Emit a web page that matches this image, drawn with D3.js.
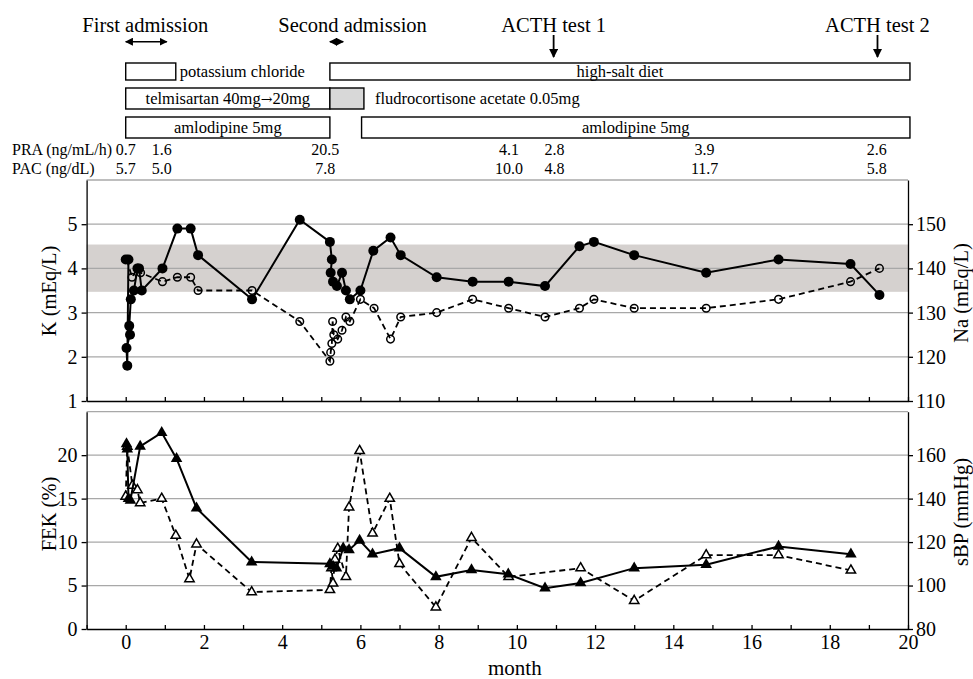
<!DOCTYPE html>
<html>
<head>
<meta charset="utf-8">
<script src="https://cdn.jsdelivr.net/npm/d3@7"></script>
<style>
  html, body { margin: 0; padding: 0; background: #fff; }
  svg { display: block; font-family: "Liberation Serif", "Times New Roman", serif; }
</style>
</head>
<body>
<svg id="chart" width="973" height="679"></svg>
<script>
// ---------------- data ----------------
// serum K (mEq/L), filled circles, solid line  [month, value]
const kData = [
  [0.00,4.2],[0.07,4.2],[0.04,1.8],[0.02,2.2],[0.11,2.5],[0.09,2.7],[0.13,3.3],[0.21,3.5],
  [0.30,4.0],[0.34,4.0],[0.41,3.5],[0.94,4.0],[1.32,4.9],[1.66,4.9],[1.85,4.3],[3.23,3.3],
  [4.45,5.1],[5.22,4.6],[5.27,4.2],[5.24,3.9],[5.30,3.7],[5.40,3.6],[5.53,3.9],[5.63,3.5],
  [5.73,3.3],[6.00,3.5],[6.33,4.4],[6.77,4.7],[7.03,4.3],[7.95,3.8],[8.87,3.7],[9.79,3.7],
  [10.72,3.6],[11.60,4.5],[11.97,4.6],[13.00,4.3],[14.84,3.9],[16.69,4.2],[18.53,4.1],[19.27,3.4]
];
// serum Na (mEq/L), open circles, dashed line
const naData = [
  [0.03,142],[0.16,138],[0.30,140],[0.38,139],[0.94,137],[1.32,138],[1.66,138],[1.85,135],
  [3.23,135],[4.45,128],[5.22,119],[5.24,121],[5.27,123],[5.29,128],[5.32,125],[5.42,124],
  [5.53,126],[5.63,129],[5.73,128],[6.00,133],[6.35,131],[6.77,124],[7.03,129],[7.95,130],
  [8.87,133],[9.79,131],[10.72,129],[11.60,131],[11.97,133],[13.00,131],[14.84,131],
  [16.69,133],[18.53,137],[19.27,140]
];
// FEK (%), filled triangles, solid line
const fekData = [
  [0.02,21.3],[0.04,20.7],[0.07,15.0],[0.12,14.8],[0.37,21.0],[0.92,22.6],[1.30,19.6],
  [1.81,13.9],[3.22,7.7],[5.22,7.5],[5.30,7.2],[5.39,7.0],[5.56,9.3],[5.71,9.1],[5.98,10.2],
  [6.31,8.6],[7.00,9.3],[7.93,6.0],[8.84,6.8],[9.78,6.3],[10.72,4.7],[11.63,5.3],[13.00,7.0],
  [14.84,7.4],[16.69,9.5],[18.54,8.6]
];
// systolic BP (mmHg), open triangles, dashed line
const sbpData = [
  [0.00,141],[0.04,164],[0.17,146],[0.30,144],[0.37,138],[0.92,140],[1.28,123],[1.63,103],
  [1.81,119],[3.22,97],[5.22,98],[5.26,108],[5.30,101],[5.35,112],[5.42,117],[5.63,104],
  [5.71,136],[5.98,162],[6.31,124],[6.75,140],[7.00,110],[7.93,90],[8.84,122],[9.79,104],
  [11.63,108],[13.00,93],[14.84,114],[16.69,114],[18.54,107]
];
const normalK = [3.47, 4.54];

const kTicks = [1,2,3,4,5];
const kGrid = [2,3,4,5,6];
const naTicks = [110,120,130,140,150];
const fekTicks = [0,5,10,15,20];
const fekGrid = [5,10,15,20,25];
const sbpTicks = [80,100,120,140,160];
const monthLabels = [0,2,4,6,8,10,12,14,16,18,20];
const monthTicks = d3.range(-1, 21);

// hormone measurements
const hormoneMonths = [0, 0.92, 5.1, 9.8, 10.96, 14.8, 19.2];
const praValues = ["0.7","1.6","20.5","4.1","2.8","3.9","2.6"];
const pacValues = ["5.7","5.0","7.8","10.0","4.8","11.7","5.8"];

// treatments: label, start month, end month, row, label placement, shaded
const treatNames  = ["potassium chloride","high-salt diet","telmisartan 40mg\u219220mg","","amlodipine 5mg","amlodipine 5mg"];
const treatStart  = [0, 5.22, 0, 5.22, 0, 6.03];
const treatEnd    = [1.28, 20.05, 5.22, 6.09, 5.22, 20.05];
const treatRow    = [0, 0, 1, 1, 2, 2];
const treatInside = [false, true, true, true, true, true];
const treatShaded = [false, false, false, true, false, false];
const fludroLabel = "fludrocortisone acetate 0.05mg";

const admissions = ["First admission", "Second admission"];
const admStart = [0, 5.22];
const admEnd = [1.05, 5.56];
const admLabelAt = [0.5, 5.8];
const acthTests = ["ACTH test 1", "ACTH test 2"];
const acthMonths = [10.94, 19.22];

// ---------------- layout ----------------
const svg = d3.select("#chart");
const X0 = 86.6, X1 = 908;
const x = d3.scaleLinear().domain([-1, 20]).range([X0, X1]);
const top1 = 180, bot1 = 401, top2 = 411.7, bot2 = 629;
const yK = d3.scaleLinear().domain([1, 6]).range([bot1, top1]);
const yNa = d3.scaleLinear().domain([110, 160]).range([bot1, top1]);
const yF = d3.scaleLinear().domain([0, 25]).range([bot2, top2]);
const yS = d3.scaleLinear().domain([80, 180]).range([bot2, top2]);

const gridColor = "#a8a8a8";
const tickFont = "20px";

// ---- normal range band
svg.append("rect")
  .attr("x", X0).attr("width", X1 - X0)
  .attr("y", yK(normalK[1])).attr("height", yK(normalK[0]) - yK(normalK[1]))
  .attr("fill", "#d5d1cf");

// ---- gridlines
svg.append("g").selectAll("line").data(kGrid).join("line")
  .attr("x1", X0).attr("x2", X1).attr("y1", d => yK(d)).attr("y2", d => yK(d))
  .attr("stroke", gridColor).attr("stroke-width", 1.3);
svg.append("g").selectAll("line").data(fekGrid).join("line")
  .attr("x1", X0).attr("x2", X1).attr("y1", d => yF(d)).attr("y2", d => yF(d))
  .attr("stroke", gridColor).attr("stroke-width", 1.3);

function styleAxis(g) {
  g.selectAll("path, line").attr("stroke", "#000").attr("stroke-width", 1.3);
  g.selectAll("text").attr("font-size", tickFont).attr("fill", "#000")
    .attr("font-family", "Liberation Serif, Times New Roman, serif");
}

// ---- top panel axes
svg.append("g").attr("transform", `translate(0,${bot1})`)
  .call(d3.axisBottom(x).tickValues(monthTicks).tickSizeInner(-4).tickSizeOuter(0).tickFormat(""))
  .call(styleAxis);
svg.append("g").attr("transform", `translate(${X0},0)`)
  .call(d3.axisLeft(yK).tickValues(kTicks).tickSizeInner(5).tickSizeOuter(0).tickPadding(4).tickFormat(d3.format("d")))
  .call(styleAxis);
svg.append("g").attr("transform", `translate(${X1},0)`)
  .call(d3.axisRight(yNa).tickValues(naTicks).tickSizeInner(5).tickSizeOuter(0).tickPadding(3).tickFormat(d3.format("d")))
  .call(styleAxis);

// ---- bottom panel axes
svg.append("g").attr("transform", `translate(0,${bot2})`)
  .call(d3.axisBottom(x).tickValues(monthTicks).tickSizeInner(-4).tickSizeOuter(0).tickFormat(""))
  .call(styleAxis);
svg.append("g").attr("transform", `translate(0,${bot2})`)
  .call(d3.axisBottom(x).tickValues(monthLabels).tickSize(0).tickPadding(6).tickFormat(d3.format("d")))
  .call(styleAxis)
  .call(g => g.select(".domain").remove());
svg.append("g").attr("transform", `translate(${X0},0)`)
  .call(d3.axisLeft(yF).tickValues(fekTicks).tickSizeInner(5).tickSizeOuter(0).tickPadding(4).tickFormat(d3.format("d")))
  .call(styleAxis);
svg.append("g").attr("transform", `translate(${X1},0)`)
  .call(d3.axisRight(yS).tickValues(sbpTicks).tickSizeInner(5).tickSizeOuter(0).tickPadding(3).tickFormat(d3.format("d")))
  .call(styleAxis);

// ---- axis titles
function vTitle(txt, cx, cy) {
  svg.append("text").attr("transform", `translate(${cx},${cy}) rotate(-90)`)
    .attr("text-anchor", "middle").attr("dominant-baseline", "central")
    .attr("font-size", "20.5px").text(txt);
}
vTitle("K (mEq/L)", 49, 291);
vTitle("FEK (%)", 49, 514);
vTitle("Na (mEq/L)", 961, 293);
vTitle("sBP (mmHg)", 961, 512);
svg.append("text").attr("x", (x(0) + x(20)) / 2 - 2).attr("y", 674.5)
  .attr("text-anchor", "middle").attr("font-size", "21px").text("month");

// ---- series
const lineK = d3.line().x(d => x(d[0])).y(d => yK(d[1]));
const lineNa = d3.line().x(d => x(d[0])).y(d => yNa(d[1]));
const lineF = d3.line().x(d => x(d[0])).y(d => yF(d[1]));
const lineS = d3.line().x(d => x(d[0])).y(d => yS(d[1]));

// Na (dashed, open circles)
svg.append("path").datum(naData).attr("d", lineNa)
  .attr("fill", "none").attr("stroke", "#000").attr("stroke-width", 1.8).attr("stroke-dasharray", "6,4");
svg.append("g").selectAll("circle").data(naData).join("circle")
  .attr("cx", d => x(d[0])).attr("cy", d => yNa(d[1])).attr("r", 3.8)
  .attr("fill", "none").attr("stroke", "#000").attr("stroke-width", 1.5);
// K (solid, filled circles)
svg.append("path").datum(kData).attr("d", lineK)
  .attr("fill", "none").attr("stroke", "#000").attr("stroke-width", 2);
svg.append("g").selectAll("circle").data(kData).join("circle")
  .attr("cx", d => x(d[0])).attr("cy", d => yK(d[1])).attr("r", 5)
  .attr("fill", "#000");

// sBP (dashed, open triangles)
svg.append("path").datum(sbpData).attr("d", lineS)
  .attr("fill", "none").attr("stroke", "#000").attr("stroke-width", 1.8).attr("stroke-dasharray", "6,4");
svg.append("g").selectAll("path").data(sbpData).join("path")
  .attr("transform", d => `translate(${x(d[0])},${yS(d[1])})`)
  .attr("d", d3.symbol(d3.symbolTriangle, 38))
  .attr("fill", "#fff").attr("stroke", "#000").attr("stroke-width", 1.5);
// FEK (solid, filled triangles)
svg.append("path").datum(fekData).attr("d", lineF)
  .attr("fill", "none").attr("stroke", "#000").attr("stroke-width", 2);
svg.append("g").selectAll("path").data(fekData).join("path")
  .attr("transform", d => `translate(${x(d[0])},${yF(d[1])})`)
  .attr("d", d3.symbol(d3.symbolTriangle, 58))
  .attr("fill", "#000");

// ---------------- annotations above ----------------
const rowTop = [63, 88, 117], rowH = [17, 21, 21], rowBase = [77, 104, 133];
const boxFont = "16.5px";
const hormFont = "16px";
treatNames.forEach((name, i) => {
  const r = treatRow[i];
  svg.append("rect")
    .attr("x", x(treatStart[i])).attr("y", rowTop[r])
    .attr("width", x(treatEnd[i]) - x(treatStart[i])).attr("height", rowH[r])
    .attr("fill", treatShaded[i] ? "#d8d8d8" : "#fff")
    .attr("stroke", "#000").attr("stroke-width", 1.4);
  if (name) {
    const t = svg.append("text")
      .attr("x", treatInside[i] ? (x(treatStart[i]) + x(treatEnd[i])) / 2 : x(treatEnd[i]) + 4)
      .attr("y", rowBase[r])
      .attr("text-anchor", treatInside[i] ? "middle" : "start")
      .attr("font-size", boxFont);
    const parts = name.split("\u2192");
    t.append("tspan").text(parts[0]);
    if (parts.length > 1) {
      t.append("tspan").attr("font-family", "DejaVu Serif, serif").attr("font-size", "14px").text("\u2192");
      t.append("tspan").text(parts[1]);
    }
  }
});
svg.append("text").attr("x", x(6.09) + 11).attr("y", rowBase[1])
  .attr("font-size", boxFont).text(fludroLabel);

// hormone rows
svg.append("text").attr("x", 12).attr("y", 154.5).attr("font-size", hormFont).text("PRA (ng/mL/h)");
svg.append("text").attr("x", 12).attr("y", 174).attr("font-size", hormFont).text("PAC (ng/dL)");
svg.append("g").selectAll("text").data(hormoneMonths).join("text")
  .attr("x", d => x(d)).attr("y", 154.5).attr("text-anchor", "middle")
  .attr("font-size", hormFont).text((d, i) => praValues[i]);
svg.append("g").selectAll("text").data(hormoneMonths).join("text")
  .attr("x", d => x(d)).attr("y", 174).attr("text-anchor", "middle")
  .attr("font-size", hormFont).text((d, i) => pacValues[i]);

// admissions: double-headed arrows
const defs = svg.append("defs");
defs.append("marker").attr("id", "ah").attr("viewBox", "0 0 10 10")
  .attr("refX", 9).attr("refY", 5).attr("markerWidth", 8).attr("markerHeight", 8)
  .attr("markerUnits", "userSpaceOnUse").attr("orient", "auto-start-reverse")
  .append("path").attr("d", "M0,0 L10,5 L0,10 z").attr("fill", "#000");

admissions.forEach((lab, i) => {
  svg.append("text").attr("x", x(admLabelAt[i])).attr("y", 31.5)
    .attr("text-anchor", "middle").attr("font-size", "20.5px").text(lab);
  svg.append("line")
    .attr("x1", x(admStart[i])).attr("x2", x(admEnd[i])).attr("y1", 41.7).attr("y2", 41.7)
    .attr("stroke", "#000").attr("stroke-width", 1.6)
    .attr("marker-start", "url(#ah)").attr("marker-end", "url(#ah)");
});

defs.append("marker").attr("id", "ah2").attr("viewBox", "0 0 10 10")
  .attr("refX", 9).attr("refY", 5).attr("markerWidth", 10).attr("markerHeight", 9)
  .attr("markerUnits", "userSpaceOnUse").attr("orient", "auto")
  .append("path").attr("d", "M0,0 L10,5 L0,10 z").attr("fill", "#000");
acthTests.forEach((lab, i) => {
  svg.append("text").attr("x", x(acthMonths[i])).attr("y", 31.5)
    .attr("text-anchor", "middle").attr("font-size", "20.5px").text(lab);
  svg.append("line")
    .attr("x1", x(acthMonths[i])).attr("x2", x(acthMonths[i])).attr("y1", 35).attr("y2", 57)
    .attr("stroke", "#000").attr("stroke-width", 1.8).attr("marker-end", "url(#ah2)");
});
</script>
</body>
</html>
